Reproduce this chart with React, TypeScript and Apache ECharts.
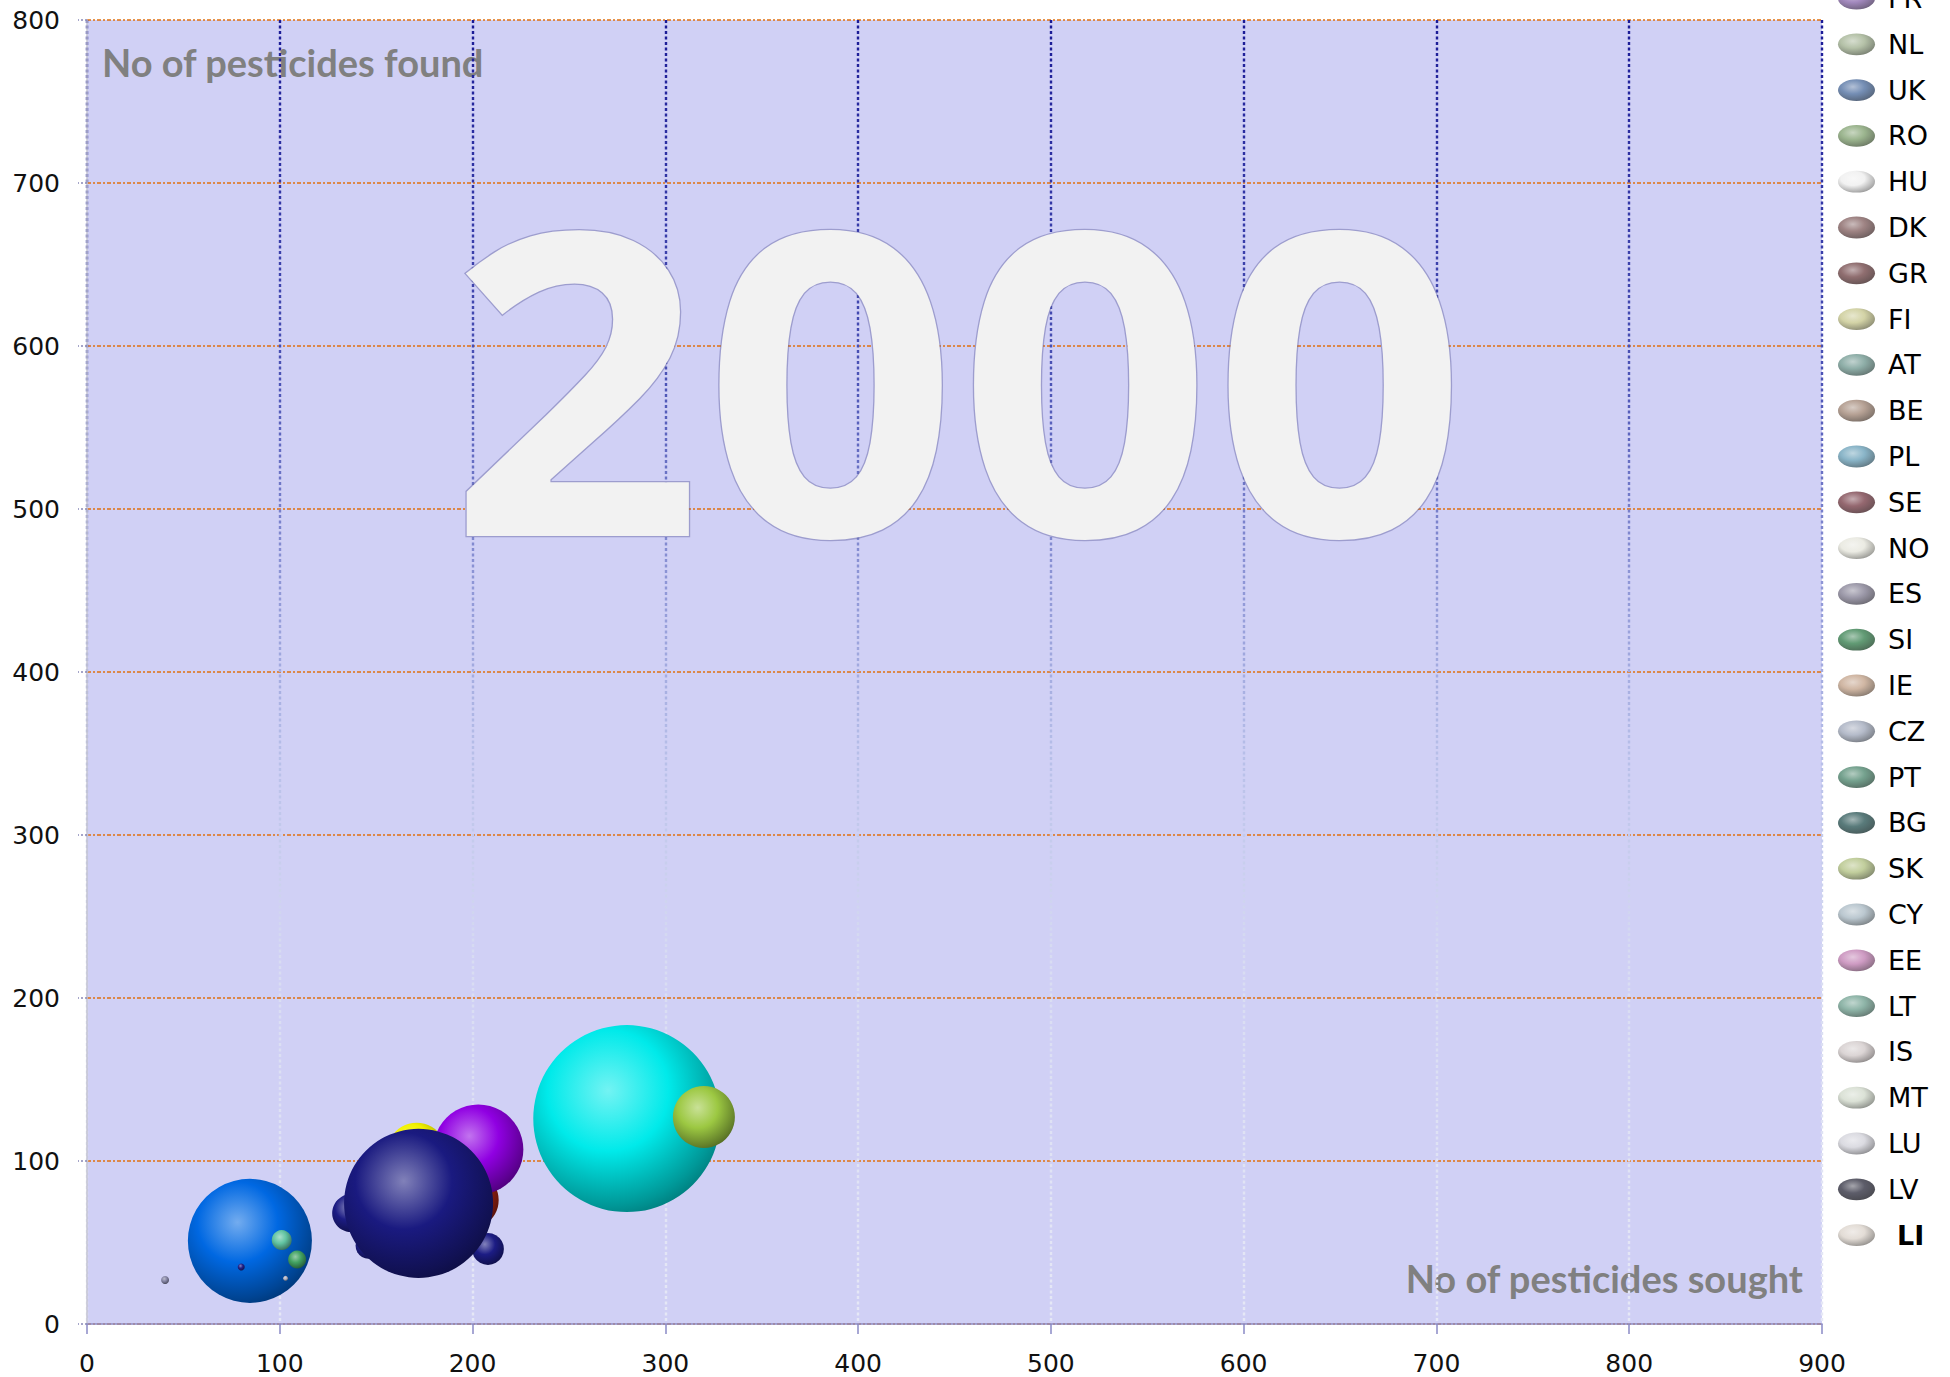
import React, { useEffect, useRef } from "react";
import * as echarts from "echarts";

// ---- axis ranges / ticks ----
const X_MIN = 0;
const X_MAX = 900;
const X_STEP = 100;
const Y_MIN = 0;
const Y_MAX = 800;
const Y_STEP = 100;

// ---- legend (countries) ----
const countries = [
  "FR", "NL", "UK", "RO", "HU", "DK", "GR", "FI", "AT", "BE", "PL", "SE", "NO", "ES",
  "SI", "IE", "CZ", "PT", "BG", "SK", "CY", "EE", "LT", "IS", "MT", "LU", "LV", "LI",
];
const countryColors = [
  "#8c6cae", "#a2b292", "#5272a2", "#82a272", "#eeeeee", "#866464", "#744a4c", "#c8c890",
  "#729a92", "#a48a7a", "#6ca2ba", "#7a424c", "#e6e6dc", "#848094", "#3a8252", "#c4a48c",
  "#a2aabc", "#528a72", "#305a5a", "#b2c284", "#aabac4", "#c282b4", "#72a292", "#d2caca",
  "#d2dacc", "#d2d2da", "#343444", "#dcd4cc",
];

// ---- bubbles (No of pesticides sought, No of pesticides found, bubble size) ----
const bubbleX = [280, 320, 199, 171, 203, 137, 146, 208, 172, 84.5, 101, 109, 40.5, 80, 103];
const bubbleY = [126, 127, 76, 105, 107, 68, 48, 46, 74, 51, 51.5, 39.6, 27, 35, 28];
const bubbleSize = [1000, 110, 90, 103, 232, 41, 19, 29, 635, 440, 11.4, 9.3, 1.8, 1.4, 0.7];
const bubbleColors = [
  "#00eaea", "#9cc842", "#a02414", "#f2f200", "#9000e2", "#1c1c84", "#1c1c84", "#1c1c84",
  "#1a1a80", "#0068e2", "#62c4a2", "#42a262", "#8484a4", "#202088", "#b4b4c4",
];
const MAX_DIAMETER = 187;

const YEAR_LABEL = "2000";

function mix(hex: string, target: number, t: number): string {
  const n = parseInt(hex.slice(1), 16);
  const r = (n >> 16) & 255;
  const g = (n >> 8) & 255;
  const b = n & 255;
  const f = (c: number) => Math.round(c + (target - c) * t);
  return "rgb(" + f(r) + "," + f(g) + "," + f(b) + ")";
}

function sphere(hex: string) {
  return {
    type: "radial",
    x: 0.4,
    y: 0.35,
    r: 0.72,
    colorStops: [
      { offset: 0, color: mix(hex, 255, 0.45) },
      { offset: 0.45, color: hex },
      { offset: 0.85, color: mix(hex, 0, 0.35) },
      { offset: 1, color: mix(hex, 0, 0.5) },
    ],
  };
}

const GRID_LEFT = 87;
const GRID_TOP = 20;
const GRID_RIGHT = 128;
const GRID_BOTTOM = 53;
const H = 1377;

const YEAR_FONT = "bold 422px 'Open Sans'";

export default function App() {
  const ref = useRef<HTMLDivElement>(null);

  useEffect(() => {
    if (!ref.current) return;
    const chart = echarts.init(ref.current, null, { renderer: "svg" });

    const countrySeries = countries.map((name, i) => ({
      type: "scatter",
      name,
      data: [],
      itemStyle: { color: sphere(countryColors[i]) },
    }));

    const bubbleData = bubbleX.map((x, i) => ({
      value: [x, bubbleY[i], bubbleSize[i]],
      itemStyle: { color: sphere(bubbleColors[i]) },
    }));

    const vGrad = {
      type: "linear",
      x: 0,
      y: GRID_TOP,
      x2: 0,
      y2: H - GRID_BOTTOM,
      global: true,
      colorStops: [
        { offset: 0, color: "#1a1a96" },
        { offset: 0.28, color: "#4c54b6" },
        { offset: 0.42, color: "#8a92d4" },
        { offset: 0.56, color: "#b6bee8" },
        { offset: 0.72, color: "#d8dcf2" },
        { offset: 1, color: "#e6e8f6" },
      ],
    };

    chart.setOption({
      animation: false,
      backgroundColor: "#ffffff",
      grid: {
        left: GRID_LEFT,
        top: GRID_TOP,
        right: GRID_RIGHT,
        bottom: GRID_BOTTOM,
        show: true,
        backgroundColor: "#d0d0f5",
        borderWidth: 0,
        containLabel: false,
      },
      xAxis: {
        type: "value",
        min: X_MIN,
        max: X_MAX,
        interval: X_STEP,
        z: 3,
        axisLine: { show: true, lineStyle: { color: "#8a8ac6", width: 1.5 } },
        axisTick: { show: true, length: 10, lineStyle: { color: "#8a8ac6", width: 1.5 } },
        axisLabel: {
          margin: 27,
          color: "#111",
          fontFamily: "DejaVu Sans",
          fontSize: 25,
        },
        splitLine: {
          show: true,
          lineStyle: { color: vGrad, width: 2.4, type: [3, 2.5] },
        },
      },
      yAxis: {
        type: "value",
        min: Y_MIN,
        max: Y_MAX,
        interval: Y_STEP,
        z: 3,
        axisLine: { show: true, lineStyle: { color: "#c4c4d2", width: 1.5 } },
        axisTick: {
          show: true,
          length: 9,
          lineStyle: { color: "#8888b8", width: 1.5, type: [2, 2] },
        },
        axisLabel: {
          margin: 27,
          color: "#111",
          fontFamily: "DejaVu Sans",
          fontSize: 25,
        },
        splitLine: {
          show: true,
          lineStyle: { color: "#e07010", width: 1.5, type: [4, 2, 2, 2] },
        },
      },
      legend: {
        orient: "vertical",
        left: 1838,
        top: -15,
        padding: 0,
        itemWidth: 37,
        itemHeight: 22,
        itemGap: 18.8,
        icon: "path://M0,10A17,10,0,1,1,34,10A17,10,0,1,1,0,10Z",
        data: countries.map((name) =>
          name === "LI"
            ? { name, textStyle: { fontWeight: "bold", padding: [0, 0, 0, 17] } }
            : { name }
        ),
        textStyle: {
          fontFamily: "DejaVu Sans",
          fontSize: 27,
          color: "#000",
          padding: [0, 0, 0, 8],
        },
      },
      graphic: [
        {
          type: "text",
          z: 1,
          style: {
            text: "No of pesticides found",
            x: 102,
            y: 62,
            align: "left",
            verticalAlign: "middle",
            font: "bold 38px Lato",
            fill: "#808080",
          },
        },
        {
          type: "text",
          z: 1,
          style: {
            text: "No of pesticides sought",
            x: 1803,
            y: 1278,
            align: "right",
            verticalAlign: "middle",
            font: "bold 38px Lato",
            fill: "#808080",
          },
        },
        {
          type: "text",
          z: 4,
          silent: true,
          x: 958,
          y: 372,
          scaleX: 1.055,
          scaleY: 1,
          style: {
            text: YEAR_LABEL,
            x: 0,
            y: 0,
            align: "center",
            verticalAlign: "middle",
            font: YEAR_FONT,
            fill: "#f2f2f2",
            stroke: "rgba(96,96,160,0.45)",
            lineWidth: 2.5,
          },
        },
      ],
      series: [
        ...countrySeries,
        {
          type: "scatter",
          name: "bubbles",
          z: 5,
          data: bubbleData,
          symbolSize: (v: number[]) => MAX_DIAMETER * Math.sqrt(v[2] / 1000),
          itemStyle: { opacity: 1 },
          emphasis: { disabled: true },
        },
      ],
    });

    return () => chart.dispose();
  }, []);

  return (
    <div
      ref={ref}
      style={{ position: "fixed", left: 0, top: 0, width: 1950, height: 1377 }}
    />
  );
}
